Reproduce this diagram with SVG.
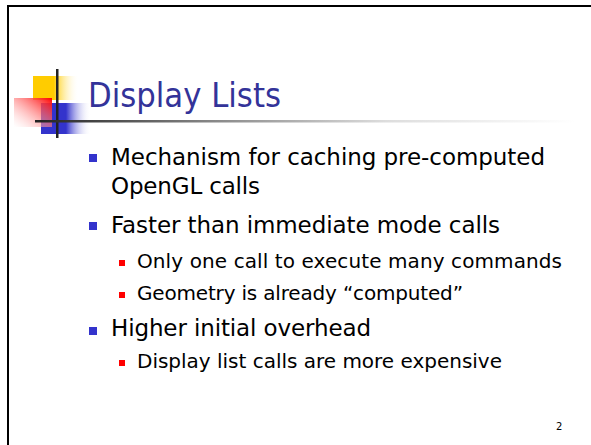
<svg xmlns="http://www.w3.org/2000/svg" width="591" height="445" viewBox="0 0 591 445">
  <defs>
    <linearGradient id="gYellow" x1="0" y1="0" x2="1" y2="0">
      <stop offset="0" stop-color="#ffcc00"/>
      <stop offset="0.45" stop-color="#ffcc00"/>
      <stop offset="1" stop-color="#ffffff" stop-opacity="0"/>
    </linearGradient>
    <linearGradient id="gRed" x1="1" y1="0" x2="0" y2="1">
      <stop offset="0" stop-color="#ff0000"/>
      <stop offset="1" stop-color="#ffffff" stop-opacity="0.3"/>
    </linearGradient>
    <linearGradient id="gBlue" x1="0" y1="0" x2="1" y2="0">
      <stop offset="0" stop-color="#3333cc"/>
      <stop offset="0.5" stop-color="#3333cc"/>
      <stop offset="1" stop-color="#ffffff" stop-opacity="0"/>
    </linearGradient>
    <linearGradient id="gRule" x1="0" y1="0" x2="1" y2="0">
      <stop offset="0" stop-color="#222222"/>
      <stop offset="0.33" stop-color="#888888"/>
      <stop offset="0.65" stop-color="#dddddd"/>
      <stop offset="1" stop-color="#ffffff"/>
    </linearGradient>
  </defs>
  <style>
    .title { font-family: "DejaVu Sans", "Liberation Sans", sans-serif; font-size: 33px; fill: #333399; }
    .l1 { font-family: "DejaVu Sans", "Liberation Sans", sans-serif; font-size: 23px; fill: #000000; }
    .l2 { font-family: "DejaVu Sans", "Liberation Sans", sans-serif; font-size: 20px; fill: #000000; }
    .b1 { fill: #3333cc; }
    .b2 { fill: #ff0000; }
    .pg { font-family: "DejaVu Sans", "Liberation Sans", sans-serif; font-size: 10px; fill: #000000; }
  </style>

  <rect width="591" height="445" fill="#ffffff"/>

  <!-- slide frame: top and left edges -->
  <rect x="7" y="5" width="584" height="2" fill="#000000"/>
  <rect x="7" y="5" width="2" height="440" fill="#000000"/>

  <!-- title logo -->
  <g id="logo">
    <rect x="33" y="76" width="46" height="24" fill="url(#gYellow)"/>
    <rect x="41" y="103" width="50" height="31" fill="url(#gBlue)"/>
    <rect x="14" y="98" width="38" height="29" fill="url(#gRed)"/>
    <rect x="56" y="69" width="2.5" height="69" fill="#222222"/>
    <rect x="35" y="120" width="540" height="2.5" fill="url(#gRule)"/>
  </g>

  <g id="title">
    <text class="title" x="88" y="107" textLength="193" lengthAdjust="spacingAndGlyphs">Display Lists</text>
  </g>

  <g id="bullets">
    <rect class="b1" x="89" y="154" width="8" height="8"/>
    <text class="l1" x="111" y="165" textLength="434">Mechanism for caching pre-computed</text>
    <text class="l1" x="111" y="194" textLength="149">OpenGL calls</text>

    <rect class="b1" x="89" y="222" width="8" height="8"/>
    <text class="l1" x="111" y="233" textLength="389">Faster than immediate mode calls</text>

    <rect class="b2" x="119" y="260" width="6" height="6"/>
    <text class="l2" x="137" y="268" textLength="425">Only one call to execute many commands</text>

    <rect class="b2" x="119" y="292" width="6" height="6"/>
    <text class="l2" x="137" y="300" textLength="326">Geometry is already “computed”</text>

    <rect class="b1" x="89" y="327" width="8" height="8"/>
    <text class="l1" x="111" y="336" textLength="260">Higher initial overhead</text>

    <rect class="b2" x="119" y="360" width="6" height="6"/>
    <text class="l2" x="137" y="368" textLength="365">Display list calls are more expensive</text>
  </g>

  <text class="pg" x="556" y="430">2</text>
</svg>
